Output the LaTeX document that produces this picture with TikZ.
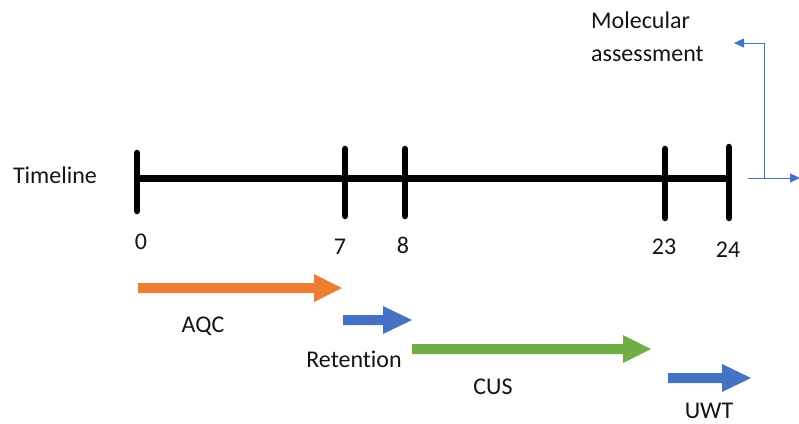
\documentclass[tikz,border=0pt]{standalone}
\usepackage{fontspec}
\setmainfont[Ligatures=CommonOff]{Carlito}
\usetikzlibrary{arrows.meta}
\definecolor{aorange}{RGB}{237,125,49}
\definecolor{ablue}{RGB}{68,114,196}
\definecolor{agreen}{RGB}{112,173,71}
\definecolor{txt}{RGB}{20,20,20}
\newcommand{\blockarr}[5]{% x1, xhead, xtip, yc, colour
  \fill[#5] (#1,#4-5) -- (#2,#4-5) -- (#2,#4-14) -- (#3,#4) -- (#2,#4+14) -- (#2,#4+5) -- (#1,#4+5) -- cycle;}
\begin{document}
\begin{tikzpicture}[x=1pt,y=-1pt,
  lbl/.style={font=\fontsize{24}{27}\selectfont, text=txt, inner sep=0pt},
  tline/.style={line width=7pt, black},
  tick/.style={line width=6.5pt, black, line cap=round},
  conn/.style={ablue, line width=0.9pt, -{Triangle[length=10pt,width=9pt]}}]
\useasboundingbox (0,0) rectangle (799,423);
% timeline
\coordinate (t0) at (137,178);
\coordinate (t24) at (730,178);
\draw[tline] (t0) -- (t24);
\draw[tick] (137,153) -- (137,211);
\draw[tick] (345,149) -- (345,216);
\draw[tick] (405,149) -- (405,216);
\draw[tick] (665,149) -- (665,218);
\draw[tick] (729,147) -- (729,218);
\node[lbl] (tl) at (55,175) {Timeline};
\node[lbl] (n0) at (141,242) {0};
\node[lbl] (n7) at (340,247) {7};
\node[lbl] (n8) at (403,245) {8};
\node[lbl] (n23) at (664,247) {23};
\node[lbl] (n24) at (728,250) {24};
% block arrows
\blockarr{138}{314}{342}{288}{aorange}
\blockarr{343}{383}{412}{320}{ablue}
\blockarr{412}{623}{651}{349}{agreen}
\blockarr{668}{722}{751}{378}{ablue}
\node[lbl] (aqc) at (203,326) {AQC};
\node[lbl] (ret) at (354,359) {Retention};
\node[lbl] (cus) at (493,387) {CUS};
\node[lbl] (uwt) at (709,411) {UWT};
% molecular assessment
\node[lbl, align=left, anchor=north west, font=\fontsize{24}{33}\selectfont] (mol) at (591,12) {Molecular\\assessment};
\coordinate (cs) at (748,178);
\coordinate (ce) at (800,178);
\coordinate (cb) at (764,178);
\coordinate (mt) at (734,43);
\draw[conn] (cs) -- (ce);
\draw[conn] (cb) |- (mt);
\end{tikzpicture}
\end{document}
